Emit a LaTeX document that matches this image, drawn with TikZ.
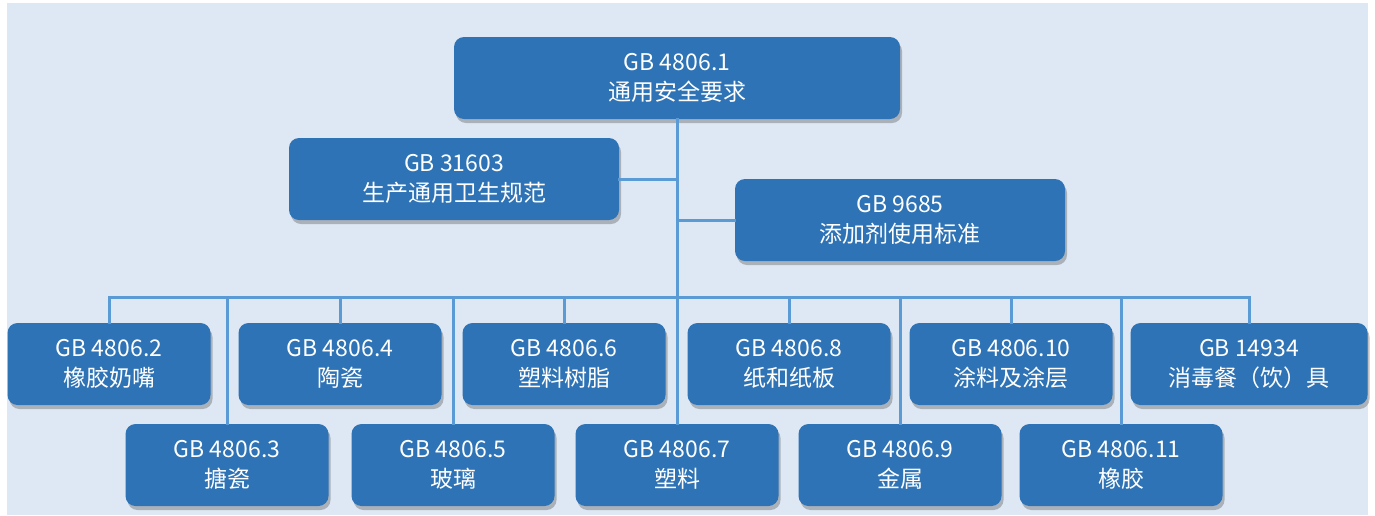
\documentclass[tikz,border=0pt]{standalone}
\usepackage{fontspec}
\setmainfont{Noto Sans CJK SC}
\usetikzlibrary{shadows}
\definecolor{boxblue}{HTML}{2E73B5}
\definecolor{bgblue}{HTML}{DEE8F4}
\definecolor{linkblue}{HTML}{5B9BD5}
\tikzset{
  stdbox/.style={fill=boxblue, rounded corners=10pt, text=white, align=center,
    minimum height=82pt, minimum width=203pt, inner sep=0pt,
    font=\fontsize{23}{30}\selectfont,
    drop shadow={shadow xshift=2pt, shadow yshift=-4pt, opacity=0.35, fill=black!70}},
  link/.style={draw=linkblue, line width=3pt, line cap=rect}
}
\begin{document}
\begin{tikzpicture}[x=1pt,y=-1pt]
    % Define row heights and trunk position
    \def\trunk{677}
    \def\rowA{364}
    \def\rowB{465}

    % Background
    \useasboundingbox (0,0) rectangle (1375,515);
    \fill[bgblue] (7,3) rectangle (1368,515);

    % Upper standards
    \node[stdbox, minimum width=446pt] (top) at (\trunk,78) {GB 4806.1\\通用安全要求};
    \node[stdbox, minimum width=330pt] (hyg) at (454,179) {GB 31603\\生产通用卫生规范};
    \node[stdbox, minimum width=330pt] (add) at (900,220) {GB 9685\\添加剂使用标准};

    % Product standards, first row
    \node[stdbox] (b2) at (109,\rowA) {GB 4806.2\\橡胶奶嘴};
    \node[stdbox] (b4) at (340,\rowA) {GB 4806.4\\陶瓷};
    \node[stdbox] (b6) at (564,\rowA) {GB 4806.6\\塑料树脂};
    \node[stdbox] (b8) at (789,\rowA) {GB 4806.8\\纸和纸板};
    \node[stdbox] (b10) at (1011,\rowA) {GB 4806.10\\涂料及涂层};
    \node[stdbox, minimum width=237pt] (b14934) at (1249,\rowA) {GB 14934\\消毒餐（饮）具};

    % Product standards, second row
    \node[stdbox] (b3) at (227,\rowB) {GB 4806.3\\搪瓷};
    \node[stdbox] (b5) at (453,\rowB) {GB 4806.5\\玻璃};
    \node[stdbox] (b7) at (\trunk,\rowB) {GB 4806.7\\塑料};
    \node[stdbox] (b9) at (900,\rowB) {GB 4806.9\\金属};
    \node[stdbox] (b11) at (1121,\rowB) {GB 4806.11\\橡胶};

    % Connectors
    \coordinate (bus) at (\trunk,297);
    \draw[link] (top.south) -- (b7.north);
    \draw[link] (hyg.east) -- (hyg.east -| top.south);
    \draw[link] (add.west) -- (add.west -| top.south);
    \draw[link] (bus -| b2.north) -- (bus -| b14934.north);
    \foreach \n in {b2,b3,b4,b5,b6,b8,b9,b10,b11,b14934}
        \draw[link] (bus -| \n.north) -- (\n.north);
\end{tikzpicture}
\end{document}
